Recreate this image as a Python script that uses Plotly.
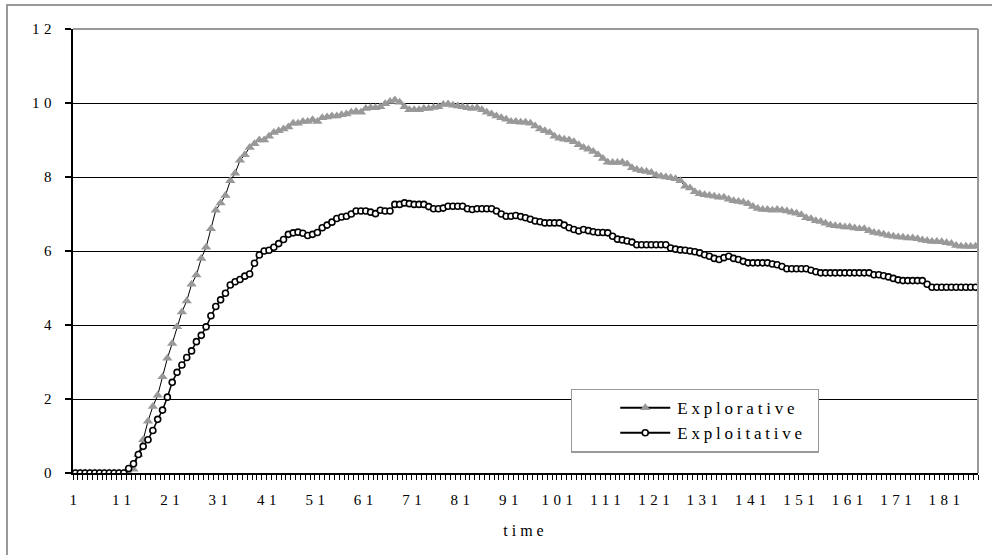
import plotly.graph_objects as go

time = list(range(1, 188))

explorative = [
    0, 0, 0, 0, 0, 0, 0, 0, 0, 0, 0, 0, 0.1, 0.5, 0.9, 1.4, 1.8, 2.1, 2.6, 3.1,
    3.5, 3.95, 4.35, 4.65, 5.1, 5.35, 5.8, 6.1, 6.6, 7.1, 7.3, 7.5, 7.9, 8.1, 8.45, 8.6, 8.8, 8.9, 9.0, 9.0,
    9.1, 9.2, 9.25, 9.3, 9.35, 9.45, 9.45, 9.5, 9.5, 9.55, 9.5, 9.6, 9.62, 9.65, 9.65, 9.68, 9.7, 9.75, 9.77, 9.75,
    9.85, 9.87, 9.87, 9.9, 9.98, 10.04, 10.08, 10.02, 9.9, 9.82, 9.82, 9.82, 9.85, 9.85, 9.88, 9.9, 9.96, 9.97, 9.94, 9.92,
    9.9, 9.87, 9.85, 9.87, 9.82, 9.75, 9.7, 9.65, 9.6, 9.56, 9.5, 9.5, 9.48, 9.48, 9.45, 9.38, 9.3, 9.25, 9.2, 9.1,
    9.05, 9.02, 9.0, 8.95, 8.87, 8.8, 8.75, 8.69, 8.6, 8.5, 8.4, 8.39, 8.39, 8.4, 8.35, 8.25, 8.2, 8.17, 8.15, 8.12,
    8.05, 8.02, 8.0, 7.98, 7.95, 7.9, 7.75, 7.7, 7.6, 7.55, 7.52, 7.5, 7.48, 7.45, 7.45, 7.4, 7.36, 7.34, 7.32, 7.28,
    7.2, 7.15, 7.12, 7.12, 7.1, 7.12, 7.1, 7.08, 7.05, 7.02, 6.98, 6.9, 6.87, 6.82, 6.8, 6.75, 6.7, 6.68, 6.67, 6.65,
    6.65, 6.62, 6.6, 6.6, 6.55, 6.5, 6.48, 6.45, 6.42, 6.4, 6.38, 6.37, 6.35, 6.35, 6.33, 6.3, 6.28, 6.26, 6.26, 6.25,
    6.22, 6.2, 6.15, 6.13, 6.13, 6.12, 6.13,
]

exploitative = [
    0, 0, 0, 0, 0, 0, 0, 0, 0, 0, 0, 0.12, 0.25, 0.5, 0.72, 0.9, 1.15, 1.45, 1.7, 2.05,
    2.45, 2.72, 2.92, 3.12, 3.3, 3.55, 3.72, 3.95, 4.25, 4.5, 4.68, 4.86, 5.08, 5.17, 5.23, 5.32, 5.38, 5.67, 5.89, 6.0,
    6.02, 6.1, 6.2, 6.31, 6.45, 6.49, 6.51, 6.48, 6.42, 6.45, 6.5, 6.63, 6.7, 6.78, 6.88, 6.92, 6.94, 7.0, 7.08, 7.08,
    7.08, 7.05, 7.01, 7.1, 7.08, 7.08, 7.26, 7.26, 7.3, 7.28, 7.26, 7.26, 7.26, 7.2, 7.14, 7.14, 7.16, 7.21, 7.21, 7.21,
    7.21, 7.14, 7.12, 7.14, 7.14, 7.14, 7.14, 7.08, 7.0, 6.94, 6.94, 6.96, 6.93, 6.9, 6.86, 6.81, 6.79, 6.76, 6.76, 6.76,
    6.76, 6.7, 6.63, 6.58, 6.54, 6.58, 6.55, 6.52, 6.5, 6.5, 6.49, 6.4, 6.32, 6.3, 6.27, 6.24, 6.17, 6.17, 6.17, 6.17,
    6.17, 6.17, 6.17, 6.08, 6.05, 6.03, 6.02, 6.0, 5.98, 5.95, 5.9, 5.86, 5.8, 5.77, 5.82, 5.86, 5.8, 5.77, 5.72, 5.68,
    5.68, 5.68, 5.68, 5.68, 5.65, 5.63, 5.58, 5.52, 5.52, 5.52, 5.52, 5.52, 5.48, 5.44, 5.41, 5.41, 5.41, 5.41, 5.41, 5.41,
    5.41, 5.41, 5.41, 5.41, 5.41, 5.36, 5.36, 5.33, 5.3, 5.26, 5.22, 5.2, 5.2, 5.2, 5.2, 5.2, 5.1, 5.02, 5.02, 5.02,
    5.02, 5.02, 5.02, 5.02, 5.02, 5.02, 5.02,
]

tick_labels = [str(v) for v in range(1, 182, 10)]
y_ticks = [0, 2, 4, 6, 8, 10, 12]

FONT = "Liberation Serif, Times New Roman, serif"

fig = go.Figure()
fig.add_trace(go.Scatter(
    x=time, y=explorative, name="Explorative", mode="lines+markers",
    line=dict(color="black", width=1),
    marker=dict(symbol="triangle-up", size=9, color="#999999", line=dict(width=0)),
))
fig.add_trace(go.Scatter(
    x=time, y=exploitative, name="Exploitative", mode="lines+markers",
    line=dict(color="black", width=1.5),
    marker=dict(symbol="circle", size=6, color="white", line=dict(color="black", width=1.6)),
))

fig.update_layout(
    width=992, height=555,
    margin=dict(l=73, r=14, t=29, b=82),
    paper_bgcolor="white", plot_bgcolor="white",
    font=dict(family=FONT, size=15, color="black"),
    showlegend=True,
    legend=dict(
        x=0.55, y=0.19, xanchor="left", yanchor="top",
        bgcolor="white", bordercolor="#999999", borderwidth=1.5,
        font=dict(family=FONT, size=17, color="black"),
        tracegroupgap=0, itemwidth=40,
    ),
    xaxis=dict(
        range=[0.5, 187.5], tickmode="array", tickvals=[int(t) for t in tick_labels],
        ticktext=tick_labels, ticks="", showgrid=False, zeroline=False,
        showline=True, linecolor="black", linewidth=2,
        ticklabelstandoff=12,
        minor=dict(tickmode="linear", tick0=0.5, dtick=1, ticks="outside", ticklen=5,
                   tickcolor="black", tickwidth=1, showgrid=False),
        title=dict(text="time", font=dict(family=FONT, size=16), standoff=18),
    ),
    yaxis=dict(
        range=[0, 12], tickmode="array", tickvals=y_ticks, ticktext=[str(v) for v in y_ticks],
        showgrid=True, gridcolor="black", gridwidth=1, zeroline=False,
        showline=True, linecolor="black", linewidth=2,
        ticks="outside", ticklen=6, tickcolor="black", tickwidth=2,
        ticklabelstandoff=6,
    ),
    shapes=[
        dict(type="line", xref="paper", yref="paper", x0=0, x1=1, y0=1, y1=1,
             line=dict(color="#999999", width=2), layer="above"),
        dict(type="line", xref="paper", yref="paper", x0=1, x1=1, y0=0, y1=1,
             line=dict(color="#999999", width=2), layer="above"),
        dict(type="rect", xref="paper", yref="paper",
             x0=(7 - 73) / 905, x1=1.05, y0=-0.2, y1=(473 - 5) / 444,
             line=dict(color="#999999", width=2), layer="below"),
    ],
)

# Spaced-out lettering and a wider legend box, as in the original spreadsheet rendering
post_js = """
var gd = document.getElementById('{plot_id}');
gd.querySelectorAll('.xtick text, .ytick text').forEach(function(t){ t.style.letterSpacing = '4.5px'; });
gd.querySelectorAll('.g-xtitle text').forEach(function(t){ t.style.letterSpacing = '4px'; });
gd.querySelectorAll('.legend [clip-path]').forEach(function(e){ e.removeAttribute('clip-path'); });
gd.querySelectorAll('.legend .traces').forEach(function(tr){
  var txt = tr.querySelector('.legendtext');
  if (txt) { txt.style.letterSpacing = '3.8px'; txt.setAttribute('x', '105'); }
  tr.querySelectorAll('.legendlines path').forEach(function(p){
    p.setAttribute('d', 'M48,0h50'); p.style.strokeWidth = '2px'; p.style.stroke = 'black';
  });
  tr.querySelectorAll('.legendpoints path').forEach(function(p){ p.setAttribute('transform', 'translate(73,0)'); });
});
var bg = gd.querySelector('.legend rect.bg');
if (bg) { bg.setAttribute('width', '247'); }
"""

fig.write_html("out.html", post_script=post_js)
